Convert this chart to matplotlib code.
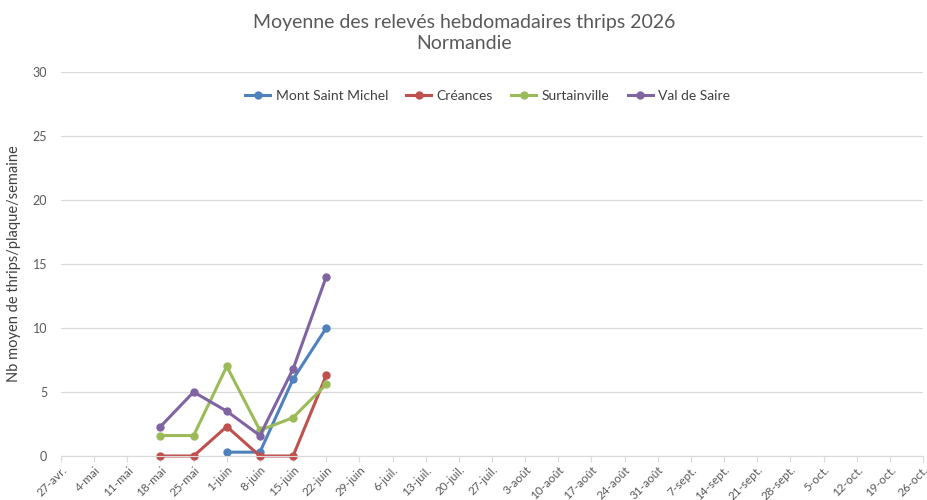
import numpy as np
import matplotlib.pyplot as plt
from matplotlib.ticker import MultipleLocator

plt.rcParams['font.family'] = ['Lato', 'DejaVu Sans']

semaines = ["27-avr.", "4-mai", "11-mai", "18-mai", "25-mai", "1-juin", "8-juin",
            "15-juin", "22-juin", "29-juin", "6-juil.", "13-juil.", "20-juil.",
            "27-juil.", "3-août", "10-août", "17-août", "24-août", "31-août",
            "7-sept.", "14-sept.", "21-sept.", "28-sept.", "5-oct.", "12-oct.",
            "19-oct.", "26-oct."]

# valeurs à partir du 18-mai (index 3)
debut = 3
mont_saint_michel = [np.nan, np.nan, 0.3, 0.3, 6.0, 10.0]
creances = [0.0, 0.0, 2.3, 0.0, 0.0, 6.3]
surtainville = [1.6, 1.6, 7.0, 2.0, 3.0, 5.6]
val_de_saire = [2.3, 5.0, 3.5, 1.6, 6.8, 14.0]

series = [
    ("Mont Saint Michel", mont_saint_michel, "#4F81BD"),
    ("Créances", creances, "#C0504D"),
    ("Surtainville", surtainville, "#9BBB59"),
    ("Val de Saire", val_de_saire, "#8064A2"),
]

fig = plt.figure(figsize=(9.28, 5.0), dpi=100)
ax = fig.add_axes([61 / 928, 1 - 456 / 500, (923 - 61) / 928, (456 - 72) / 500])

for nom, vals, coul in series:
    x = np.arange(debut, debut + len(vals))
    ax.plot(x, vals, color=coul, lw=2.2, marker="o", ms=5, label=nom, clip_on=False)

ax.set_xlim(0, len(semaines) - 1)
ax.set_ylim(0, 30)
ax.yaxis.set_major_locator(MultipleLocator(5))
ax.set_xticks(range(len(semaines)))
ax.set_xticklabels(semaines, rotation=45, ha="right", rotation_mode="anchor")
ax.tick_params(axis="x", colors="#595959", labelsize=8.5, length=4, width=0.8,
               color="#D9D9D9", pad=2)
ax.tick_params(axis="y", colors="#595959", labelsize=9, length=0, pad=10)

ax.grid(axis="y", color="#D9D9D9", lw=0.9)
ax.set_axisbelow(True)
for s in ["top", "right", "left"]:
    ax.spines[s].set_visible(False)
ax.spines["bottom"].set_color("#D9D9D9")

ax.set_ylabel("Nb moyen de thrips/plaque/semaine", color="#404040", fontsize=10.5, labelpad=8)
fig.suptitle("Moyenne des relevés hebdomadaires thrips 2026\nNormandie",
             y=0.972, fontsize=14, color="#595959", linespacing=1.3)

ax.legend(loc="upper center", bbox_to_anchor=(0.495, 0.985), ncol=4, frameon=False,
          fontsize=10, handlelength=1.8, handletextpad=0.4, columnspacing=1.3,
          labelcolor="#404040")

fig.savefig("out.png", dpi=100)
